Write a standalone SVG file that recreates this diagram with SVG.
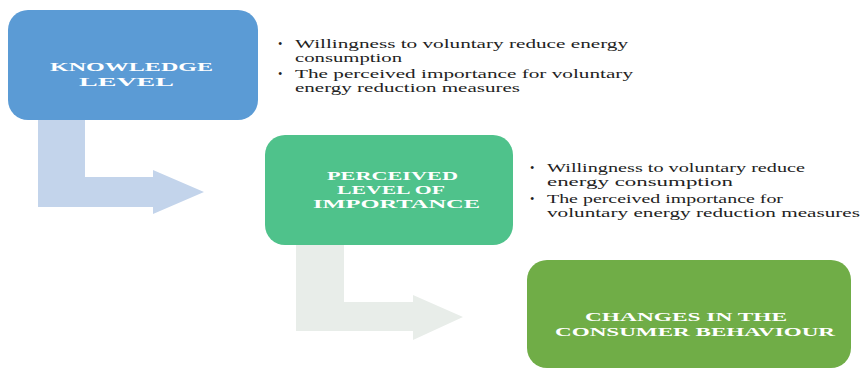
<svg xmlns="http://www.w3.org/2000/svg" width="861" height="369" viewBox="0 0 861 369">
<style>
.title{font-family:"Liberation Serif","Times New Roman",serif;font-weight:bold;font-size:13px;fill:#ffffff}
.bul{font-family:"Liberation Serif","Times New Roman",serif;font-size:12.5px;fill:#222222}
</style>
<rect width="861" height="369" fill="#ffffff"/>
<g id="connectors">
<polygon id="arrow1" points="38,118 85,118 85,177 153,177 153,170 204,192 153,214 153,207 38,207" fill="#c3d4eb"/>
<polygon id="arrow2" points="296,243 344,243 344,302 413,302 413,295 463,317 413,340 413,331 296,331" fill="#e8ede9"/>
</g>
<g id="knowledge">
<rect x="8" y="10" width="250" height="110" rx="20" fill="#5b9bd5"/>
<text class="title" x="50" y="71" textLength="163" lengthAdjust="spacingAndGlyphs">KNOWLEDGE</text>
<text class="title" x="79" y="85.5" textLength="95" lengthAdjust="spacingAndGlyphs">LEVEL</text>
</g>
<g id="notes1">
<text class="bul" x="278" y="48">•</text>
<text class="bul" x="295" y="48" textLength="333" lengthAdjust="spacingAndGlyphs">Willingness to voluntary reduce energy</text>
<text class="bul" x="295" y="61.5" textLength="107" lengthAdjust="spacingAndGlyphs">consumption</text>
<text class="bul" x="278" y="78">•</text>
<text class="bul" x="295" y="78" textLength="338" lengthAdjust="spacingAndGlyphs">The perceived importance for voluntary</text>
<text class="bul" x="295" y="91.5" textLength="225" lengthAdjust="spacingAndGlyphs">energy reduction measures</text>
</g>
<g id="perceived">
<rect x="265" y="135" width="248" height="110" rx="20" fill="#4fc28b"/>
<text class="title" x="327" y="180" textLength="131" lengthAdjust="spacingAndGlyphs">PERCEIVED</text>
<text class="title" x="337" y="194" textLength="108" lengthAdjust="spacingAndGlyphs">LEVEL OF</text>
<text class="title" x="313" y="208" textLength="167" lengthAdjust="spacingAndGlyphs">IMPORTANCE</text>
</g>
<g id="notes2">
<text class="bul" x="530" y="172">•</text>
<text class="bul" x="547" y="172" textLength="258" lengthAdjust="spacingAndGlyphs">Willingness to voluntary reduce</text>
<text class="bul" x="547" y="185.5" textLength="186" lengthAdjust="spacingAndGlyphs">energy consumption</text>
<text class="bul" x="530" y="203">•</text>
<text class="bul" x="547" y="203" textLength="236" lengthAdjust="spacingAndGlyphs">The perceived importance for</text>
<text class="bul" x="547" y="216.5" textLength="313" lengthAdjust="spacingAndGlyphs">voluntary energy reduction measures</text>
</g>
<g id="changes">
<rect x="527" y="260" width="324" height="108" rx="20" fill="#70ad47"/>
<text class="title" x="585" y="321" textLength="202" lengthAdjust="spacingAndGlyphs">CHANGES IN THE</text>
<text class="title" x="555" y="335.5" textLength="280" lengthAdjust="spacingAndGlyphs">CONSUMER BEHAVIOUR</text>
</g>
</svg>
